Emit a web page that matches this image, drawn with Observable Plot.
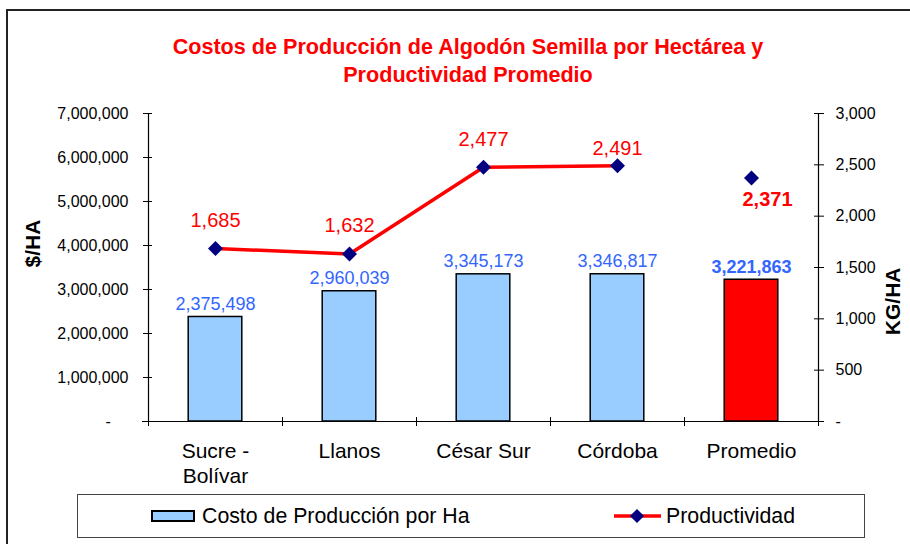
<!DOCTYPE html>
<html>
<head>
<meta charset="utf-8">
<script src="https://cdn.jsdelivr.net/npm/d3@7"></script>
<script src="https://cdn.jsdelivr.net/npm/@observablehq/plot@0.6"></script>
<style>
  html, body { margin: 0; padding: 0; background: #fff; overflow: hidden; }
  #wrap { position: relative; width: 910px; height: 544px; overflow: hidden; background: #fff;
          font-family: "Liberation Sans", Arial, sans-serif; }
  #border { position: absolute; left: 6px; top: 9px; width: 930px; height: 580px; border: 2px solid #222; box-sizing: border-box; }
  #title { position: absolute; left: 18px; top: 33px; width: 900px; text-align: center; color: #ff0000;
           font-weight: bold; font-size: 21.6px; line-height: 28px; }
  #chart { position: absolute; left: 0; top: 0; }
  #legend { position: absolute; left: 77px; top: 494px; width: 788px; height: 44px; border: 1.5px solid #444; box-sizing: border-box; }
  .lg { position: absolute; font-size: 21.3px; line-height: 24px; color: #000; white-space: nowrap; }
</style>
</head>
<body>
<div id="wrap">
  <div id="border"></div>
  <div id="title">Costos de Producción de Algodón Semilla por Hectárea y<br>Productividad Promedio</div>
  <div id="chart"></div>
  <div id="legend"></div>
</div>
<script>
// ---- data ----
const categories = ["Sucre - Bolívar", "Llanos", "César Sur", "Córdoba", "Promedio"];
const categoryLabels = ["Sucre -\nBolívar", "Llanos", "César Sur", "Córdoba", "Promedio"];
const costoPorHa = [2375498, 2960039, 3345173, 3346817, 3221863];
const productividad = [1685, 1632, 2477, 2491, 2371];
const leftTicks = [0, 1000000, 2000000, 3000000, 4000000, 5000000, 6000000, 7000000];
const rightTicks = [0, 500, 1000, 1500, 2000, 2500, 3000];
const leftMax = 7000000;
const rightMax = 3000;
const seriesNames = ["Costo de Producción por Ha", "Productividad"];

// ---- derived ----
const k = leftMax / rightMax;
const rows = categories.map((c, i) => ({
  cat: c, label: categoryLabels[i], cost: costoPorHa[i], prod: productividad[i], avg: c === "Promedio"
}));
const regions = rows.filter(d => !d.avg);
const avgRow = rows.filter(d => d.avg);
const fmt = d3.format(",");

const W = 910, H = 544, mL = 148, mR = 92, mT = 113, mB = 123;
const innerW = W - mL - mR;
const step = innerW / categories.length;
const px = leftMax / (H - mT - mB); // data units per pixel on left scale

const blue = "#3366FF";

const chart = Plot.plot({
  width: W, height: H,
  marginLeft: mL, marginRight: mR, marginTop: mT, marginBottom: mB,
  style: {fontFamily: "'Liberation Sans', Arial, sans-serif", fontSize: "16px", background: "transparent", overflow: "visible"},
  x: {domain: categories, paddingInner: 0.6, paddingOuter: 0.3, round: false, axis: null},
  y: {domain: [0, leftMax], axis: null, label: null},
  color: {type: "identity"},
  marks: [
    // bars
    Plot.barY(rows, {x: "cat", y: "cost", fill: d => d.avg ? "#ff0000" : "#99CCFF", stroke: "#000", strokeWidth: 1.5}),
    // axis lines
    Plot.ruleY([0], {stroke: "#000", strokeWidth: 1.2, insetLeft: -6, insetRight: -6}),
    Plot.ruleX([categories[0]], {y1: 0, y2: leftMax, dx: -step / 2, stroke: "#000", strokeWidth: 1.2}),
    Plot.ruleX([categories[categories.length - 1]], {y1: 0, y2: leftMax, dx: step / 2, stroke: "#000", strokeWidth: 1.2}),
    // category ticks crossing the bottom axis
    Plot.ruleX(categories, {x: d => d, dx: -step / 2, y1: -5 * px, y2: 4 * px, stroke: "#000", strokeWidth: 1}),
    Plot.ruleX([categories[categories.length - 1]], {x: d => d, dx: step / 2, y1: -5 * px, y2: 4 * px, stroke: "#000", strokeWidth: 1}),
    // left axis
    Plot.axisY(leftTicks, {anchor: "left", label: null, tickSize: 5, tickPadding: 15, fontSize: 16, fill: "#000",
      tickFormat: d => d === 0 ? "-\u00a0\u00a0\u00a0\u00a0" : fmt(d)}),
    Plot.gridY(leftTicks, {stroke: "#000", strokeOpacity: 1, insetRight: innerW - 4}),
    // right axis
    Plot.axisY(rightTicks.map(v => v * k), {anchor: "right", label: null, tickSize: 5, tickPadding: 12, fontSize: 16, fill: "#000",
      tickFormat: d => { const v = Math.round(d / k); return v === 0 ? "-" : fmt(v); }}),
    Plot.gridY(rightTicks.map(v => v * k), {stroke: "#000", strokeOpacity: 1, insetLeft: innerW - 4}),
    // axis titles
    Plot.text(["$/HA"], {frameAnchor: "left", dx: -115, rotate: -90, fontSize: 21, fontWeight: "bold", fill: "#000"}),
    Plot.text(["KG/HA"], {frameAnchor: "right", dx: 75, rotate: -90, fontSize: 21, fontWeight: "bold", fill: "#000"}),
    // category labels
    Plot.text(rows, {x: "cat", y: 0, text: "label", lineAnchor: "top", dy: 18, lineHeight: 1.22, fontSize: 21, fill: "#000"}),
    // bar value labels
    Plot.text(regions, {x: "cat", y: "cost", text: d => fmt(d.cost), dy: -13, fontSize: 18, fill: blue}),
    Plot.text(avgRow, {x: "cat", y: "cost", text: d => fmt(d.cost), dy: -13, fontSize: 18, fontWeight: "bold", fill: blue}),
    // productivity line
    Plot.line(regions, {x: "cat", y: d => d.prod * k, stroke: "#ff0000", strokeWidth: 3.5}),
    Plot.dot(rows, {x: "cat", y: d => d.prod * k, symbol: "square", rotate: 45, r: 6, fill: "#000080", stroke: "none"}),
    // productivity labels
    Plot.text(regions.filter(d => d.cat !== "Córdoba"), {x: "cat", y: d => d.prod * k, text: d => fmt(d.prod), dy: -28, fontSize: 20, fill: "#ff0000"}),
    Plot.text(regions.filter(d => d.cat === "Córdoba"), {x: "cat", y: d => d.prod * k, text: d => fmt(d.prod), dy: -17, fontSize: 20, fill: "#ff0000"}),
    Plot.text(avgRow, {x: "cat", y: d => d.prod * k, text: d => fmt(d.prod), dy: 22, dx: 16, fontSize: 20, fontWeight: "bold", fill: "#ff0000"})
  ]
});
document.getElementById("chart").appendChild(chart);

// ---- legend ----
const lg = document.getElementById("legend");
lg.innerHTML = `
  <div style="position:absolute;left:73px;top:15px;width:44px;height:12px;background:#99CCFF;border:2px solid #000;box-sizing:border-box"></div>
  <div class="lg" style="left:124px;top:9px">${seriesNames[0]}</div>
  <svg style="position:absolute;left:534px;top:10px" width="52" height="22">
    <line x1="2" y1="11" x2="49" y2="11" stroke="#ff0000" stroke-width="3.5"/>
    <rect x="20" y="6" width="10" height="10" fill="#000080" transform="rotate(45 25 11)"/>
  </svg>
  <div class="lg" style="left:588px;top:9px">${seriesNames[1]}</div>`;
</script>
</body>
</html>
